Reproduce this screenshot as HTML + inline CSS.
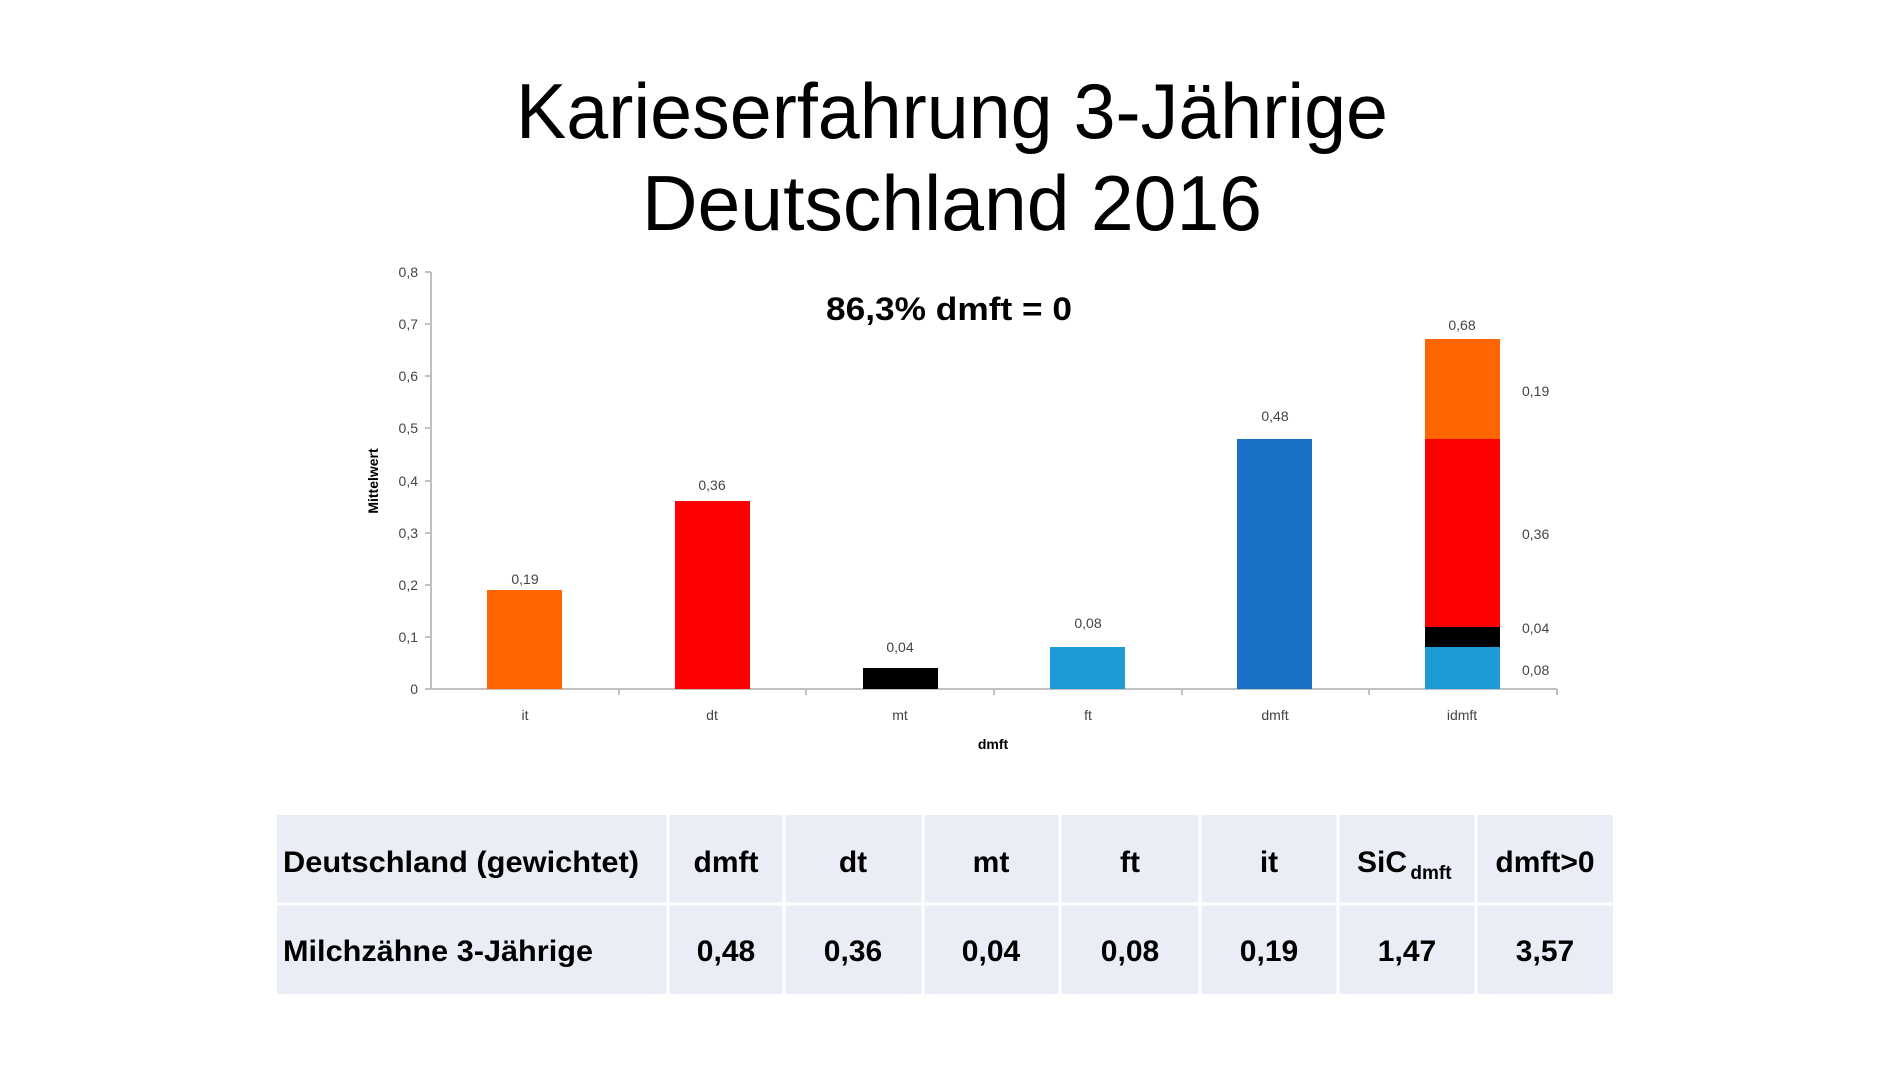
<!DOCTYPE html>
<html><head><meta charset="utf-8"><style>html,body{margin:0;padding:0;background:#fff}svg{display:block}</style></head>
<body>
<svg width="1900" height="1069" viewBox="0 0 1900 1069" xmlns="http://www.w3.org/2000/svg" font-family="'Liberation Sans', sans-serif">
<rect width="1900" height="1069" fill="#fff"/>
<text x="952" y="138" font-size="78" text-anchor="middle" textLength="872" lengthAdjust="spacingAndGlyphs" fill="#000">Karieserfahrung 3-Jährige</text>
<text x="952" y="230" font-size="78" text-anchor="middle" textLength="620" lengthAdjust="spacingAndGlyphs" fill="#000">Deutschland 2016</text>
<text x="949" y="320" font-size="32" font-weight="bold" text-anchor="middle" textLength="246" lengthAdjust="spacingAndGlyphs">86,3% dmft = 0</text>
<g stroke="#c0c0c0" stroke-width="2" fill="none">
<line x1="431" y1="272" x2="431" y2="690"/>
<line x1="431" y1="689" x2="1557" y2="689"/>
<line x1="425" y1="272" x2="431" y2="272"/><line x1="425" y1="324" x2="431" y2="324"/>
<line x1="425" y1="376" x2="431" y2="376"/><line x1="425" y1="428" x2="431" y2="428"/>
<line x1="425" y1="481" x2="431" y2="481"/><line x1="425" y1="533" x2="431" y2="533"/>
<line x1="425" y1="585" x2="431" y2="585"/><line x1="425" y1="637" x2="431" y2="637"/>
<line x1="425" y1="689" x2="431" y2="689"/>
<line x1="619" y1="689" x2="619" y2="695"/><line x1="806" y1="689" x2="806" y2="695"/>
<line x1="994" y1="689" x2="994" y2="695"/><line x1="1182" y1="689" x2="1182" y2="695"/>
<line x1="1369" y1="689" x2="1369" y2="695"/><line x1="1557" y1="689" x2="1557" y2="695"/>
</g>
<g font-size="14" fill="#444" text-anchor="end">
<text x="418" y="277">0,8</text><text x="418" y="329">0,7</text><text x="418" y="381">0,6</text>
<text x="418" y="433">0,5</text><text x="418" y="486">0,4</text><text x="418" y="538">0,3</text>
<text x="418" y="590">0,2</text><text x="418" y="642">0,1</text><text x="418" y="694">0</text>
</g>
<text transform="translate(378,481) rotate(-90)" font-size="14" font-weight="bold" text-anchor="middle">Mittelwert</text>
<rect x="487" y="590" width="75" height="99" fill="#FF6600"/>
<rect x="675" y="501" width="75" height="188" fill="#FF0000"/>
<rect x="863" y="668" width="75" height="21" fill="#000"/>
<rect x="1050" y="647" width="75" height="42" fill="#1E9BD7"/>
<rect x="1237" y="439" width="75" height="250" fill="#1A6FC6"/>
<rect x="1425" y="647" width="75" height="42" fill="#1E9BD7"/>
<rect x="1425" y="627" width="75" height="20" fill="#000"/>
<rect x="1425" y="439" width="75" height="188" fill="#FF0000"/>
<rect x="1425" y="339" width="75" height="100" fill="#FF6600"/>
<g font-size="14" fill="#444" text-anchor="middle">
<text x="525" y="584">0,19</text><text x="712" y="490">0,36</text><text x="900" y="652">0,04</text>
<text x="1088" y="628">0,08</text><text x="1275" y="421">0,48</text><text x="1462" y="330">0,68</text>
<text x="525" y="720">it</text><text x="712" y="720">dt</text><text x="900" y="720">mt</text>
<text x="1088" y="720">ft</text><text x="1275" y="720">dmft</text><text x="1462" y="720">idmft</text>
</g>
<g font-size="14" fill="#444">
<text x="1522" y="396">0,19</text><text x="1522" y="539">0,36</text>
<text x="1522" y="633">0,04</text><text x="1522" y="675">0,08</text>
</g>
<text x="993" y="749" font-size="14" font-weight="bold" text-anchor="middle">dmft</text>
<rect x="277" y="815" width="1336" height="179" fill="#E9EEF6"/>
<g stroke="#fff" stroke-width="3">
<line x1="277" y1="904" x2="1613" y2="904"/>
<line x1="668" y1="815" x2="668" y2="994"/><line x1="784" y1="815" x2="784" y2="994"/>
<line x1="923" y1="815" x2="923" y2="994"/><line x1="1060" y1="815" x2="1060" y2="994"/>
<line x1="1200" y1="815" x2="1200" y2="994"/><line x1="1338" y1="815" x2="1338" y2="994"/>
<line x1="1476" y1="815" x2="1476" y2="994"/>
</g>
<g font-size="30" font-weight="bold" fill="#000">
<text x="283" y="872" textLength="356" lengthAdjust="spacingAndGlyphs">Deutschland (gewichtet)</text>
<text x="283" y="961" textLength="310" lengthAdjust="spacingAndGlyphs">Milchzähne 3-Jährige</text>
<g text-anchor="middle">
<text x="726" y="872">dmft</text><text x="853" y="872">dt</text><text x="991" y="872">mt</text>
<text x="1130" y="872">ft</text><text x="1269" y="872">it</text>
<text x="1382" y="872">SiC</text><text x="1431" y="879" font-size="19">dmft</text>
<text x="1545" y="872">dmft&gt;0</text>
<text x="726" y="961">0,48</text><text x="853" y="961">0,36</text><text x="991" y="961">0,04</text>
<text x="1130" y="961">0,08</text><text x="1269" y="961">0,19</text><text x="1407" y="961">1,47</text>
<text x="1545" y="961">3,57</text>
</g>
</g>
</svg>
</body></html>
